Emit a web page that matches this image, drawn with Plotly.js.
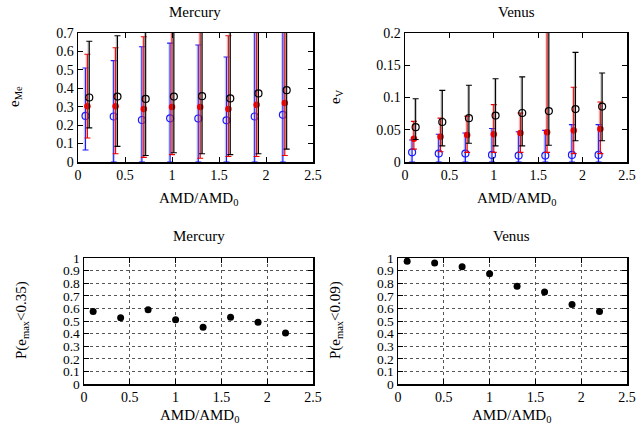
<!DOCTYPE html>
<html><head><meta charset="utf-8">
<script src="https://cdn.plot.ly/plotly-3.0.1.min.js"></script>
<style>html,body{margin:0;padding:0;background:#fff}#c{width:644px;height:432px}</style>
</head><body><div id="c"></div>
<script>
// ---- data ----
const amd = [0.1, 0.4, 0.7, 1.0, 1.3, 1.6, 1.9, 2.2];

// Mercury eccentricity (top-left)
const meBlue = [0.250, 0.247, 0.228, 0.237, 0.236, 0.226, 0.247, 0.256];
const meBlueLo = [0.065, 0.0, 0.0, 0.0, 0.0, 0.0, 0.0, 0.0];
const meBlueHi = [0.510, 0.550, 0.625, 0.645, 0.635, 0.570, 0.750, 0.750];
const meRed = [0.303, 0.303, 0.288, 0.298, 0.298, 0.288, 0.310, 0.320];
const meRedLo = [0.130, 0.045, 0.025, 0.040, 0.020, 0.030, 0.030, 0.035];
const meRedHi = [0.585, 0.620, 0.680, 0.750, 0.750, 0.685, 0.750, 0.750];
const meBlack = [0.350, 0.355, 0.342, 0.355, 0.357, 0.345, 0.372, 0.390];
const meBlackLo = [0.185, 0.085, 0.035, 0.050, 0.045, 0.040, 0.045, 0.070];
const meBlackHi = [0.655, 0.685, 0.750, 0.750, 0.750, 0.750, 0.750, 0.750];

// Venus eccentricity (top-right)
const vBlue = [0.015, 0.013, 0.013, 0.011, 0.010, 0.010, 0.011, 0.011];
const vBlueLo = [0.0, 0.0, 0.0, 0.0, 0.0, 0.0, 0.0, 0.0];
const vBlueHi = [0.034, 0.043, 0.045, 0.052, 0.047, 0.049, 0.058, 0.058];
const vRed = [0.036, 0.039, 0.042, 0.043, 0.045, 0.046, 0.049, 0.051];
const vRedLo = [0.020, 0.016, 0.015, 0.015, 0.015, 0.015, 0.013, 0.013];
const vRedHi = [0.063, 0.068, 0.071, 0.089, 0.076, 0.250, 0.116, 0.093];
const vBlack = [0.054, 0.062, 0.068, 0.072, 0.076, 0.079, 0.082, 0.086];
const vBlackLo = [0.035, 0.025, 0.029, 0.025, 0.025, 0.026, 0.033, 0.033];
const vBlackHi = [0.098, 0.111, 0.119, 0.129, 0.132, 0.250, 0.170, 0.138];

// Probabilities (bottom)
const pMe = [0.575, 0.525, 0.590, 0.510, 0.450, 0.530, 0.490, 0.405];
const pV = [0.975, 0.960, 0.930, 0.875, 0.775, 0.730, 0.630, 0.575];

const xTicks = [0, 0.5, 1, 1.5, 2, 2.5];
const xTickText = ['0', '0.5', '1', '1.5', '2', '2.5'];

// ---- build ----
const shift = (arr, d) => arr.map(v => +(v + d).toFixed(3));
const FONT = 'Liberation Serif';

function errTraces(xa, ya, xs, y, lo, hi, color, faint, filled) {
  const up = hi.map((h, i) => h - y[i]);
  const dn = lo.map((l, i) => y[i] - l);
  return [
    { x: shift(xs, -0.008), y: y, xaxis: xa, yaxis: ya, type: 'scatter', mode: 'markers',
      marker: { size: 1, color: 'rgba(0,0,0,0)' }, hoverinfo: 'skip',
      error_y: { type: 'data', symmetric: false, array: up, arrayminus: dn, color: faint, thickness: 2, width: 0 } },
    { x: xs, y: y, xaxis: xa, yaxis: ya, type: 'scatter', mode: 'markers',
      marker: filled ? { size: 6.5, color: color, symbol: 'circle' }
                     : { size: 7, color: color, symbol: 'circle-open', line: { color: color, width: 1.2 } },
      error_y: { type: 'data', symmetric: false, array: up, arrayminus: dn, color: color, thickness: 1.1, width: 3 } }
  ];
}

const xB = shift(amd, -0.02), xR = amd, xK = shift(amd, 0.02);
let data = [];
data = data.concat(errTraces('x', 'y', xB, meBlue, meBlueLo, meBlueHi, '#1a1aff', 'rgba(80,110,255,0.35)', false));
data = data.concat(errTraces('x', 'y', xR, meRed, meRedLo, meRedHi, '#ee0000', 'rgba(255,80,80,0.35)', true));
data = data.concat(errTraces('x', 'y', xK, meBlack, meBlackLo, meBlackHi, '#000000', 'rgba(100,100,100,0.45)', false));
data = data.concat(errTraces('x2', 'y2', xB, vBlue, vBlueLo, vBlueHi, '#1a1aff', 'rgba(80,110,255,0.35)', false));
data = data.concat(errTraces('x2', 'y2', xR, vRed, vRedLo, vRedHi, '#ee0000', 'rgba(255,80,80,0.35)', true));
data = data.concat(errTraces('x2', 'y2', xK, vBlack, vBlackLo, vBlackHi, '#000000', 'rgba(100,100,100,0.45)', false));
data.push({ x: amd, y: pMe, xaxis: 'x3', yaxis: 'y3', type: 'scatter', mode: 'markers', marker: { size: 7, color: '#000' } });
data.push({ x: amd, y: pV, xaxis: 'x4', yaxis: 'y4', type: 'scatter', mode: 'markers', marker: { size: 7, color: '#000' } });

function baseAxis(fs) {
  return {
    showline: true, linecolor: '#000', linewidth: 1.5, mirror: 'ticks',
    ticks: 'inside', ticklen: 5, tickcolor: '#000', tickwidth: 1,
    zeroline: false, showgrid: false,
    tickfont: { family: FONT, size: fs, color: '#000' }
  };
}
function xa(domain, anchor, grid) {
  return Object.assign(baseAxis(14), { domain: domain, anchor: anchor, range: [0, 2.5],
    tickvals: xTicks, ticktext: xTickText, showgrid: !!grid, gridcolor: '#555', griddash: 'dot', gridwidth: 1 });
}
function ya(domain, anchor, range, dtick, grid, fs) {
  return Object.assign(baseAxis(fs), { domain: domain, anchor: anchor, range: range,
    tick0: 0, dtick: dtick, showgrid: !!grid, gridcolor: '#555', griddash: 'dot', gridwidth: 1 });
}

const yTop = [1 - 162 / 432, 1 - 33 / 432];
const yBot = [1 - 384 / 432, 1 - 258 / 432];

const layout = {
  width: 644, height: 432, margin: { l: 0, r: 0, t: 0, b: 0 },
  paper_bgcolor: '#fff', plot_bgcolor: '#fff', showlegend: false,
  font: { family: FONT, size: 14, color: '#000' },
  xaxis: xa([78 / 644, 313 / 644], 'y'),
  yaxis: ya(yTop, 'x', [0, 0.7], 0.1, false, 14),
  xaxis2: xa([405 / 644, 627 / 644], 'y2'),
  yaxis2: Object.assign(ya(yTop, 'x2', [0, 0.2], 0.05, false, 14), { tickvals: [0, 0.05, 0.1, 0.15, 0.2], ticktext: ['0', '0.05', '0.1', '0.15', '0.2'] }),
  xaxis3: xa([84 / 644, 313 / 644], 'y3', true),
  yaxis3: ya(yBot, 'x3', [0, 1], 0.1, true, 13.5),
  xaxis4: xa([398 / 644, 627 / 644], 'y4', true),
  yaxis4: ya(yBot, 'x4', [0, 1], 0.1, true, 13.5),
  annotations: []
};

function ann(text, px, py, rot) {
  layout.annotations.push({ text: text, xref: 'paper', yref: 'paper', x: px / 644, y: 1 - py / 432,
    xanchor: 'center', yanchor: 'middle', showarrow: false, textangle: rot || 0,
    font: { family: FONT, size: 15, color: '#000' } });
}
ann('Mercury', 195, 12);
ann('Venus', 516, 12);
ann('Mercury', 199, 236);
ann('Venus', 512, 236);
ann('AMD/AMD<sub>0</sub>', 198, 199);
ann('AMD/AMD<sub>0</sub>', 516, 199);
ann('AMD/AMD<sub>0</sub>', 199, 416);
ann('AMD/AMD<sub>0</sub>', 512, 416);
ann('e<sub>Me</sub>', 15, 97, -90);
ann('e<sub>V</sub>', 336, 97, -90);
ann('P(e<sub>max</sub><0.35)', 22, 320, -90);
ann('P(e<sub>max</sub><0.09)', 336, 320, -90);

Plotly.newPlot('c', data, layout, { staticPlot: true, displayModeBar: false });
</script>
</body></html>
